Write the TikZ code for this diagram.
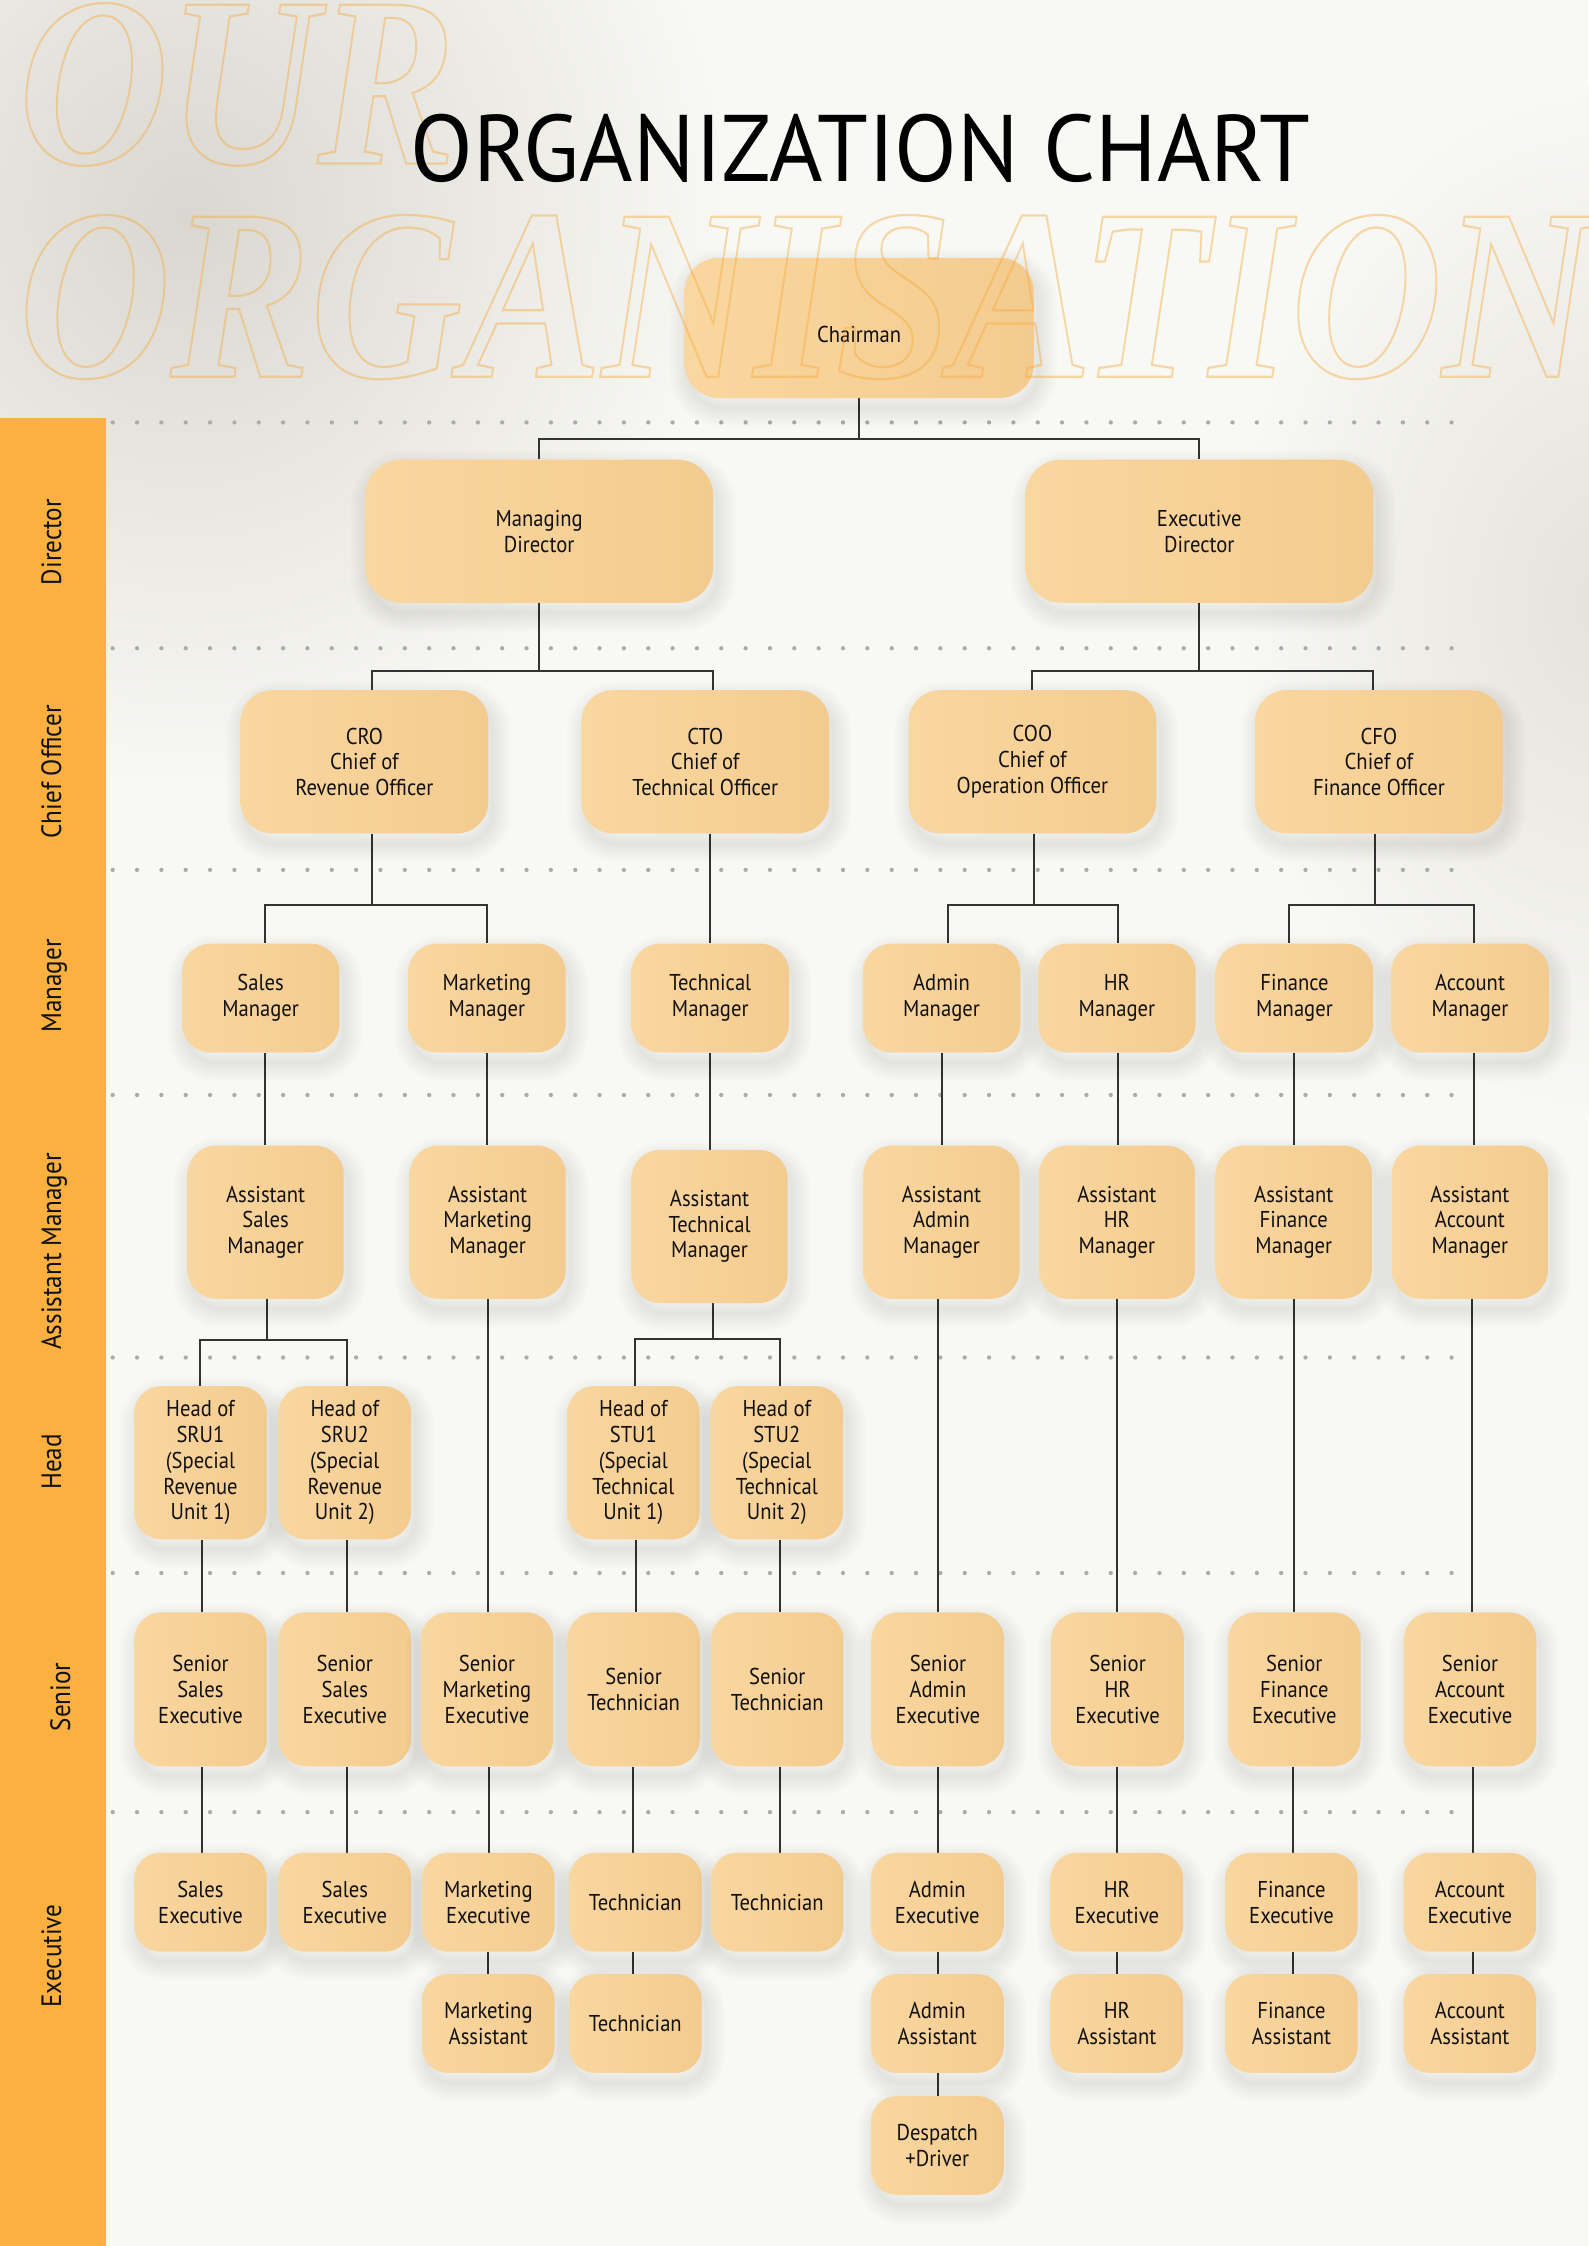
\documentclass[tikz,border=0pt]{standalone}
\usepackage{fontspec}
\usepackage{graphicx}
\setmainfont{PT Sans}[FakeStretch=0.9]
\newfontfamily\titlefont{PT Sans}
\newfontfamily\wmfont{Liberation Serif}
\definecolor{bgc}{HTML}{F8F8F4}
\definecolor{sidec}{HTML}{FCB040}
\definecolor{boxL}{HTML}{F9D7A0}
\definecolor{boxR}{HTML}{F4CB8F}
\definecolor{linec}{HTML}{333333}
\definecolor{dotc}{HTML}{ABABAB}
\definecolor{wmc}{HTML}{F7A93A}
\definecolor{txtc}{HTML}{111111}
\definecolor{shadec}{HTML}{DAD7D0}
\definecolor{shadec2}{HTML}{E4E2DC}
\newcommand\boxfont{\fontsize{16}{18}\selectfont}
\newcommand\sidefont{\fontsize{19.5}{20}\selectfont}
\newcommand\vlink[3]{\path ([xshift=#3]#1.south) coordinate (vtmp); \draw[conn] (vtmp) -- (vtmp |- #2.north);}
\newcommand\wmtext[1]{\wmfont\bfseries\itshape\fontsize{165}{165}\selectfont\special{pdf:literal direct 1 Tr 1.5 w}#1\special{pdf:literal direct 0 Tr}}
\pgfdeclarelayer{back}
\pgfdeclarelayer{links}
\pgfdeclarelayer{front}
\pgfsetlayers{back,links,main,front}
\begin{document}
\begin{tikzpicture}[x=1pt,y=-1pt,
  conn/.style={draw=linec,line width=1.4pt},
  bus/.style={to path={-- ++(0,#1) -| (\tikztotarget)}},
  shl/.style={preaction={draw=black,draw opacity=0.012,line width=#1,transform canvas={xshift=3pt,yshift=-7pt}}},
  shadowed/.style={shl=26pt,shl=22pt,shl=18pt,shl=14pt,shl=10pt,shl=6pt,shl=2pt},
  box/.style={rectangle,rounded corners=20pt,inner sep=0pt,align=center,font=\boxfont,
    text=txtc,left color=boxL,right color=boxR,shadowed},
  chairbox/.style={box,minimum width=244pt,minimum height=98pt,rounded corners=24pt},
  dirbox/.style={box,minimum width=243pt,minimum height=100pt,rounded corners=25pt},
  chiefbox/.style={box,minimum width=173pt,minimum height=100pt,rounded corners=22pt},
  mgrbox/.style={box,minimum width=110pt,minimum height=76pt},
  asbox/.style={box,minimum width=109pt,minimum height=107pt},
  hdbox/.style={box,minimum width=92.5pt,minimum height=107pt,rounded corners=19pt},
  snbox/.style={box,minimum width=92.5pt,minimum height=107.5pt,rounded corners=19pt},
  exbox/.style={box,minimum width=92.5pt,minimum height=69pt,rounded corners=18pt},
  sidelbl/.style={rotate=90,anchor=base,inner sep=0pt,font=\sidefont,text=txtc}
]
\useasboundingbox (0,0) rectangle (1109,1568.5);
\begin{pgfonlayer}{back}
\fill[bgc] (0,0) rectangle (1109,1568.5);
\shade[inner color=shadec,outer color=bgc] (130,150) ellipse (380 and 400);
\shade[inner color=shadec2,outer color=bgc] (1120,420) ellipse (260 and 360);
\fill[sidec] (0,291.7) rectangle (74,1568.5);
\foreach \yy in {295,452.7,607.5,764.7,948,1098.5,1265.5}{
  \foreach \i in {0,...,55}{
    \fill[dotc] (78.7+17*\i,\yy) circle (1.5);
  }
}
\end{pgfonlayer}
% sidebar labels
\node[sidelbl] (lDir) at (42.6,378.6) {Director};
\node[sidelbl] (lChief) at (42.6,539) {Chief Officer};
\node[sidelbl] (lMgr) at (42.6,688.5) {Manager};
\node[sidelbl] (lAsst) at (42.6,874) {Assistant Manager};
\node[sidelbl] (lHead) at (42.6,1021) {Head};
\node[sidelbl] (lSen) at (48.9,1185) {Senior};
\node[sidelbl] (lExe) at (42.6,1366) {Executive};
% boxes
\node[chairbox] (chair) at (600,229) {\raisebox{-10.5pt}[0pt][0pt]{Chairman}};
\node[dirbox] (md) at (376.5,371) {Managing\\Director};
\node[dirbox] (ed) at (837.5,371) {Executive\\Director};
\node[chiefbox] (cro) at (254.5,532) {CRO\\Chief of\\Revenue Officer};
\node[chiefbox] (cto) at (492.5,532) {CTO\\Chief of\\Technical Officer};
\node[chiefbox] (coo) at (721,532) {COO\\Chief of\\Operation Officer};
\node[chiefbox] (cfo) at (963,532) {CFO\\Chief of\\Finance Officer};
\node[mgrbox] (smgr) at (182,697) {Sales\\Manager};
\node[mgrbox] (mmgr) at (340,697) {Marketing\\Manager};
\node[mgrbox] (tmgr) at (496,697) {Technical\\Manager};
\node[mgrbox] (amgr) at (657.5,697) {Admin\\Manager};
\node[mgrbox] (hmgr) at (780,697) {HR\\Manager};
\node[mgrbox] (fmgr) at (904,697) {Finance\\Manager};
\node[mgrbox] (acmgr) at (1026.6,697) {Account\\Manager};
\node[asbox] (asales) at (185.5,853.5) {Assistant\\Sales\\Manager};
\node[asbox] (amkt) at (340.5,853.5) {Assistant\\Marketing\\Manager};
\node[asbox] (atech) at (495.5,856.5) {Assistant\\Technical\\Manager};
\node[asbox] (aadmin) at (657.5,853.5) {Assistant\\Admin\\Manager};
\node[asbox] (ahr) at (780,853.5) {Assistant\\HR\\Manager};
\node[asbox] (afin) at (903.5,853.5) {Assistant\\Finance\\Manager};
\node[asbox] (aacc) at (1026.5,853.5) {Assistant\\Account\\Manager};
\node[hdbox] (sru1) at (140,1021.5) {Head of\\SRU1\\(Special\\Revenue\\Unit 1)};
\node[hdbox] (sru2) at (240.8,1021.5) {Head of\\SRU2\\(Special\\Revenue\\Unit 2)};
\node[hdbox] (stu1) at (442.3,1021.5) {Head of\\STU1\\(Special\\Technical\\Unit 1)};
\node[hdbox] (stu2) at (542.5,1021.5) {Head of\\STU2\\(Special\\Technical\\Unit 2)};
\node[snbox] (sse1) at (140,1179.7) {Senior\\Sales\\Executive};
\node[snbox] (sse2) at (240.8,1179.7) {Senior\\Sales\\Executive};
\node[snbox] (sme) at (340.1,1179.7) {Senior\\Marketing\\Executive};
\node[snbox] (st1) at (442.5,1179.7) {Senior\\Technician};
\node[snbox] (st2) at (542.8,1179.7) {Senior\\Technician};
\node[snbox] (sae) at (655,1179.7) {Senior\\Admin\\Executive};
\node[snbox] (shr) at (780.5,1179.7) {Senior\\HR\\Executive};
\node[snbox] (sfe) at (903.9,1179.7) {Senior\\Finance\\Executive};
\node[snbox] (sace) at (1026.6,1179.7) {Senior\\Account\\Executive};
\node[exbox] (se1) at (140,1328.4) {Sales\\Executive};
\node[exbox] (se2) at (240.8,1328.4) {Sales\\Executive};
\node[exbox] (me) at (341,1328.4) {Marketing\\Executive};
\node[exbox] (t1) at (443.7,1328.4) {Technician};
\node[exbox] (t2) at (542.8,1328.4) {Technician};
\node[exbox] (ae) at (654.5,1328.4) {Admin\\Executive};
\node[exbox] (hre) at (780,1328.4) {HR\\Executive};
\node[exbox] (fe) at (901.9,1328.4) {Finance\\Executive};
\node[exbox] (ace) at (1026.5,1328.4) {Account\\Executive};
\node[exbox] (ma) at (341,1413.1) {Marketing\\Assistant};
\node[exbox] (t3) at (443.7,1413.1) {Technician};
\node[exbox] (aa) at (654.5,1413.1) {Admin\\Assistant};
\node[exbox] (hra) at (780,1413.1) {HR\\Assistant};
\node[exbox] (fa) at (901.9,1413.1) {Finance\\Assistant};
\node[exbox] (aca) at (1026.5,1413.1) {Account\\Assistant};
\node[exbox] (desp) at (654.5,1498.3) {Despatch\\+Driver};
% connectors
\begin{pgfonlayer}{links}
\draw[conn] (chair.south) to[bus=28.7] (md.north);
\draw[conn] (chair.south) to[bus=28.7] (ed.north);
\draw[conn] (md.south) to[bus=47.5] ([xshift=5.3pt]cro.north);
\draw[conn] (md.south) to[bus=47.5] ([xshift=5.5pt]cto.north);
\draw[conn] (ed.south) to[bus=47.5] ([xshift=-0.2pt]coo.north);
\draw[conn] (ed.south) to[bus=47.5] ([xshift=-4pt]cfo.north);
\draw[conn] ([xshift=5.3pt]cro.south) to[bus=50] ([xshift=2.9pt]smgr.north);
\draw[conn] ([xshift=5.3pt]cro.south) to[bus=50] ([xshift=-0.2pt]mmgr.north);
\vlink{cto}{tmgr}{3.5pt}
\draw[conn] ([xshift=1.4pt]coo.south) to[bus=50] ([xshift=4.5pt]amgr.north);
\draw[conn] ([xshift=1.4pt]coo.south) to[bus=50] ([xshift=1pt]hmgr.north);
\draw[conn] ([xshift=-3pt]cfo.south) to[bus=50] ([xshift=-4pt]fmgr.north);
\draw[conn] ([xshift=-3pt]cfo.south) to[bus=50] ([xshift=3.1pt]acmgr.north);
\vlink{smgr}{asales}{3pt}
\vlink{mmgr}{amkt}{0pt}
\vlink{tmgr}{atech}{0pt}
\vlink{amgr}{aadmin}{0.5pt}
\vlink{hmgr}{ahr}{1pt}
\vlink{fmgr}{afin}{-0.4pt}
\vlink{acmgr}{aacc}{3.1pt}
\draw[conn] ([xshift=1.1pt]asales.south) to[bus=28.3] (sru1.north);
\draw[conn] ([xshift=1.1pt]asales.south) to[bus=28.3] ([xshift=1.6pt]sru2.north);
\draw[conn] ([xshift=2.5pt]atech.south) to[bus=25] ([xshift=1.2pt]stu1.north);
\draw[conn] ([xshift=2.5pt]atech.south) to[bus=25] ([xshift=2.2pt]stu2.north);
\vlink{sru1}{sse1}{0.8pt}
\vlink{sru2}{sse2}{1.3pt}
\vlink{amkt}{sme}{0.5pt}
\vlink{stu1}{st1}{1.7pt}
\vlink{stu2}{st2}{2.2pt}
\vlink{aadmin}{sae}{-2.5pt}
\vlink{ahr}{shr}{0pt}
\vlink{afin}{sfe}{0.5pt}
\vlink{aacc}{sace}{1.5pt}
\vlink{sse1}{se1}{0.8pt}
\vlink{sse2}{se2}{1.2pt}
\vlink{sme}{me}{1.1pt}
\vlink{st1}{t1}{-0.5pt}
\vlink{st2}{t2}{1.9pt}
\vlink{sae}{ae}{0pt}
\vlink{shr}{hre}{-0.5pt}
\vlink{sfe}{fe}{-0.9pt}
\vlink{sace}{ace}{1.9pt}
\vlink{me}{ma}{0pt}
\vlink{t1}{t3}{-1.7pt}
\vlink{ae}{aa}{0.5pt}
\vlink{hre}{hra}{0pt}
\vlink{fe}{fa}{1.1pt}
\vlink{ace}{aca}{2pt}
\vlink{aa}{desp}{0.5pt}
\end{pgfonlayer}
% watermark and title
\begin{pgfonlayer}{front}
\begin{scope}[transparency group,opacity=0.42]
\node[anchor=south west,inner sep=0pt,text=wmc] (wm1) at (13,116)
  {\resizebox{305pt}{112pt}{\wmtext{OUR}}};
\node[anchor=south west,inner sep=0pt,text=wmc] (wm2) at (13,265)
  {\resizebox{1100pt}{113pt}{\wmtext{ORGANISATION}}};
\end{scope}
\node[inner sep=0pt,text=black] (title) at (601,103.5)
  {\resizebox{628pt}{47pt}{\titlefont ORGANIZATION CHART}};
\end{pgfonlayer}
\end{tikzpicture}
\end{document}
